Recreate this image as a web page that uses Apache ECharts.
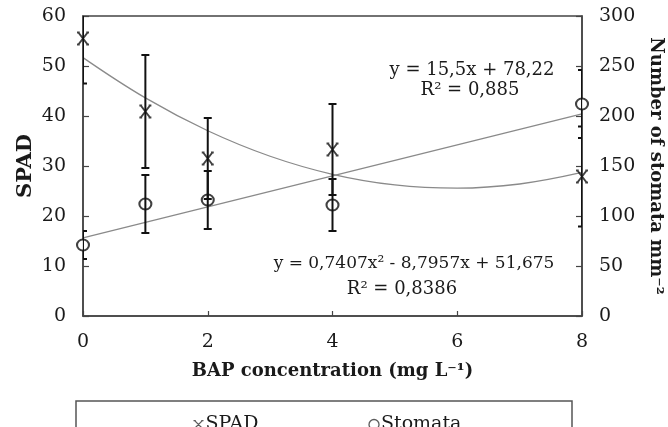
<!DOCTYPE html>
<html>
<head>
<meta charset="utf-8">
<script src="https://cdn.jsdelivr.net/npm/echarts@6/dist/echarts.min.js"></script>
<style>html,body{margin:0;padding:0;background:#fff;}#c{width:668px;height:427px;}</style>
</head>
<body>
<div id="c"></div>
<script>
// ---- data ----
const xVals = [0, 1, 2, 4, 8];
const spadMean = [55.5, 40.9, 31.5, 33.3, 27.9];
const spadErr = [9.0, 11.3, 8.1, 9.1, 10.0];
const stomataMean = [71, 112, 116, 111, 212];
const stomataErr = [14, 29, 29, 26, 34];
const spadTrendX = [0, 1, 2, 3, 4, 5, 6, 7, 8];
const spadTrend = [51.68, 43.62, 37.05, 31.95, 28.34, 26.21, 25.57, 26.40, 28.71];
const stomataTrendX = [0, 8];
const stomataTrend = [78.22, 202.22];
const xTicks = { min: 0, max: 8, interval: 2 };
const leftTicks = { min: 0, max: 60, interval: 10 };
const rightTicks = { min: 0, max: 300, interval: 50 };
const eqStomata = ['y = 15,5x + 78,22', 'R² = 0,885'];
const eqSpad = ['y = 0,7407x² - 8,7957x + 51,675', 'R² = 0,8386'];

const FONT = 'DejaVu Serif';
const TXT = '#1a1a1a';
const AX = '#444';

const zip = (xs, ys) => xs.map((x, i) => [x, ys[i]]);
const zip3 = (xs, ys, es) => xs.map((x, i) => [x, ys[i], es[i]]);

function errRender(params, api) {
  const x = api.value(0), y = api.value(1), e = api.value(2);
  const t = api.coord([x, y + e]);
  const b = api.coord([x, y - e]);
  const hw = 4;
  const st = { stroke: '#111', lineWidth: 2 };
  return {
    type: 'group',
    children: [
      { type: 'line', shape: { x1: t[0], y1: t[1], x2: b[0], y2: b[1] }, style: st },
      { type: 'line', shape: { x1: t[0] - hw, y1: t[1], x2: t[0] + hw, y2: t[1] }, style: st },
      { type: 'line', shape: { x1: b[0] - hw, y1: b[1], x2: b[0] + hw, y2: b[1] }, style: st }
    ]
  };
}

const X_PATH = 'path://M0,0L10,10M10,0L0,10M-1.5,0L1.5,0M8.5,0L11.5,0M-1.5,10L1.5,10M8.5,10L11.5,10';

const chart = echarts.init(document.getElementById('c'));
chart.setOption({
  animation: false,
  backgroundColor: '#fff',
  textStyle: { fontFamily: FONT, color: TXT },
  grid: { left: 83, right: 86, top: 16, bottom: 111, containLabel: false, outerBoundsMode: 'none', show: true, borderColor: AX, borderWidth: 1.5, backgroundColor: 'transparent' },
  legend: {
    data: [
      { name: 'SPAD', icon: X_PATH, itemStyle: { color: 'none', borderColor: '#333', borderWidth: 1.3 } },
      { name: 'Stomata', icon: 'circle', itemStyle: { color: 'none', borderColor: '#333', borderWidth: 1.3 } }
    ],
    left: 186, top: 410, itemGap: 108, itemWidth: 10, itemHeight: 10,
    textStyle: { fontFamily: FONT, fontSize: 19, color: TXT, padding: [0, 0, 0, -3] }
  },
  xAxis: {
    type: 'value', min: xTicks.min, max: xTicks.max, interval: xTicks.interval,
    name: 'BAP concentration (mg L⁻¹)', nameLocation: 'middle', nameGap: 46, nameMoveOverlap: false,
    nameTextStyle: { fontFamily: FONT, fontWeight: 'bold', fontSize: 18, color: TXT },
    axisLine: { lineStyle: { color: AX, width: 1.5 } },
    axisTick: { inside: true, length: 5, lineStyle: { color: AX, width: 1.2 } },
    axisLabel: { fontFamily: FONT, fontSize: 19, color: TXT, margin: 17 },
    splitLine: { show: false }
  },
  yAxis: [
    {
      type: 'value', min: leftTicks.min, max: leftTicks.max, interval: leftTicks.interval,
      name: 'SPAD', nameLocation: 'middle', nameGap: 47, nameRotate: 90, nameMoveOverlap: false,
      nameTextStyle: { fontFamily: FONT, fontWeight: 'bold', fontSize: 21, color: TXT },
      axisLine: { show: true, lineStyle: { color: AX, width: 1.5 } },
      axisTick: { show: true, inside: true, length: 6, lineStyle: { color: AX, width: 1.2 } },
      axisLabel: { fontFamily: FONT, fontSize: 19, color: TXT, margin: 17 },
      splitLine: { show: false }
    },
    {
      type: 'value', position: 'right', min: rightTicks.min, max: rightTicks.max, interval: rightTicks.interval,
      name: 'Number of stomata mm⁻²', nameLocation: 'middle', nameGap: 65, nameRotate: -90, nameMoveOverlap: false,
      nameTextStyle: { fontFamily: FONT, fontWeight: 'bold', fontSize: 18, color: TXT },
      axisLine: { show: true, lineStyle: { color: AX, width: 1.5 } },
      axisTick: { show: true, inside: true, length: 6, lineStyle: { color: AX, width: 1.2 } },
      axisLabel: { fontFamily: FONT, fontSize: 19, color: TXT, margin: 17 },
      splitLine: { show: false }
    }
  ],
  graphic: [
    { type: 'text', x: 472, y: 70, style: { text: eqStomata[0], font: '18px "DejaVu Serif"', fill: TXT, align: 'center', verticalAlign: 'middle' } },
    { type: 'text', x: 470, y: 90, style: { text: eqStomata[1], font: '18px "DejaVu Serif"', fill: TXT, align: 'center', verticalAlign: 'middle' } },
    { type: 'text', x: 414, y: 264, style: { text: eqSpad[0], font: '17px "DejaVu Serif"', fill: TXT, align: 'center', verticalAlign: 'middle' } },
    { type: 'text', x: 402, y: 289, style: { text: eqSpad[1], font: '18px "DejaVu Serif"', fill: TXT, align: 'center', verticalAlign: 'middle' } },
    { type: 'rect', shape: { x: 76, y: 401, width: 496, height: 40 }, style: { fill: 'none', stroke: '#555', lineWidth: 1.5 } }
  ],
  series: [
    {
      name: 'SPAD trend', type: 'line', yAxisIndex: 0, data: zip(spadTrendX, spadTrend),
      smooth: 0.4, showSymbol: false, lineStyle: { color: '#8a8a8a', width: 1.3 }, z: 1, silent: true
    },
    {
      name: 'Stomata trend', type: 'line', yAxisIndex: 1, data: zip(stomataTrendX, stomataTrend),
      showSymbol: false, lineStyle: { color: '#8a8a8a', width: 1.3 }, z: 1, silent: true
    },
    {
      name: 'SPAD', type: 'scatter', yAxisIndex: 0, data: zip(xVals, spadMean),
      symbol: X_PATH, symbolSize: 12, itemStyle: { color: 'none', borderColor: '#111', borderWidth: 2 }, z: 3
    },
    {
      name: 'Stomata', type: 'scatter', yAxisIndex: 1, data: zip(xVals, stomataMean),
      symbol: 'emptyCircle', symbolSize: [12, 11], itemStyle: { color: '#111', borderColor: '#111', borderWidth: 1.8 }, z: 3
    },
    {
      name: 'SPAD err', type: 'custom', yAxisIndex: 0, data: zip3(xVals, spadMean, spadErr),
      renderItem: errRender, clip: true, z: 4, silent: true
    },
    {
      name: 'Stomata err', type: 'custom', yAxisIndex: 1, data: zip3(xVals, stomataMean, stomataErr),
      renderItem: errRender, clip: true, z: 4, silent: true
    }
  ]
});
</script>
</body>
</html>
